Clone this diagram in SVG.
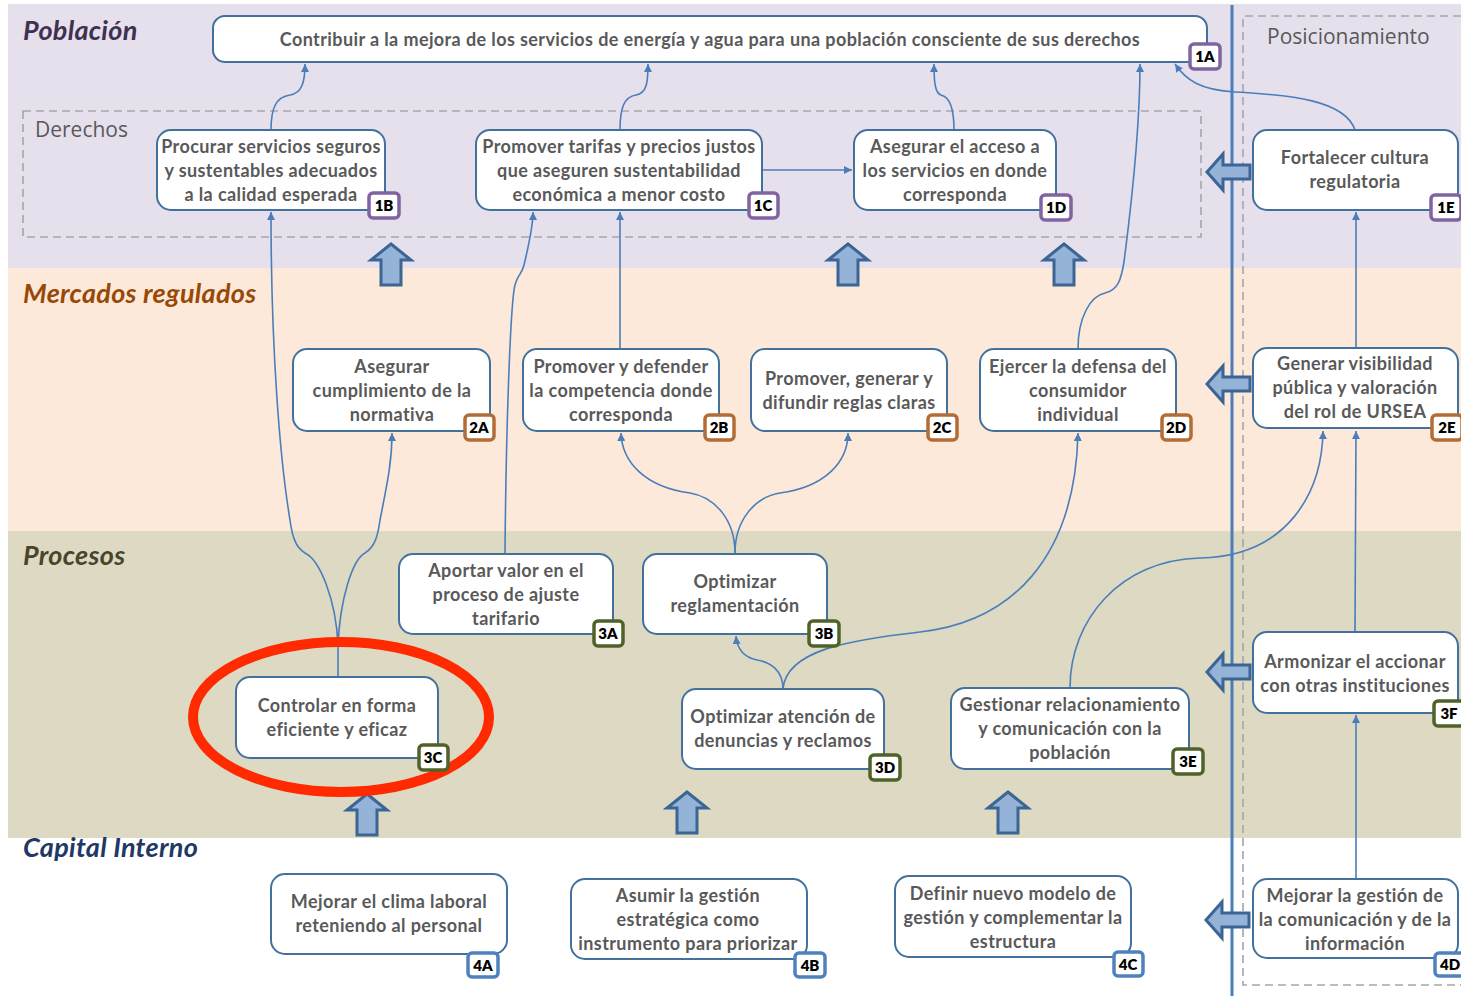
<svg xmlns="http://www.w3.org/2000/svg" width="1461" height="996" viewBox="0 0 1461 996">
<defs>
<style>
.lbl{font-family:Lato,"Liberation Sans",sans-serif;font-weight:700;font-style:italic;font-size:27px;letter-spacing:0.3px}
.grp{font-family:"Open Sans","Liberation Sans",sans-serif;font-size:21px;fill:#595959}
.box{fill:#fff;stroke:#41719c;stroke-width:2}
.t{font-family:Lato,"Liberation Sans",sans-serif;font-weight:700;font-size:18px;letter-spacing:0.4px;fill:#595959;text-anchor:middle}
.bd{fill:#fff;stroke-width:3.5}
.bt{font-family:Lato,"Liberation Sans",sans-serif;font-weight:800;font-size:15px;fill:#000;text-anchor:middle}
.p1{stroke:#8064a2}.p2{stroke:#b46c36}.p3{stroke:#4f6228}.p4{stroke:#4f81bd}
.c{fill:none;stroke:#4a7ebb;stroke-width:1.6}
.big{fill:#95b3d7;stroke:#3a6595;stroke-width:3;stroke-linejoin:miter}
.dash{fill:none;stroke:#a6a6a6;stroke-width:1.6;stroke-dasharray:8 5}
</style>
<marker id="ah" markerUnits="userSpaceOnUse" markerWidth="10" markerHeight="10" refX="8" refY="4" orient="auto">
<path d="M0,0 L8,4 L0,8 z" fill="#4a7ebb"/>
</marker>
<path id="up" d="M0,0 L20,16 L10,16 L10,41 L-10,41 L-10,16 L-20,16 Z"/>
<path id="left" d="M0,0 L16,-18 L16,-7 L43,-7 L43,7 L16,7 L16,18 Z"/>
</defs>

<g id="lanes">
<rect x="8" y="4" width="1453" height="264" fill="#e5e0ec"/>
<rect x="8" y="268" width="1453" height="263" fill="#fde9d9"/>
<rect x="8" y="531" width="1453" height="307" fill="#ddd9c3"/>
<rect x="23" y="111" width="1178" height="126" class="dash"/>
<path d="M1461,16 L1243,16 L1243,985 L1461,985" class="dash"/>
<line x1="1232" y1="5" x2="1232" y2="996" stroke="#4a7ebb" stroke-width="3"/>
<text x="23" y="40" class="lbl" fill="#3f3151">Población</text>
<text x="23" y="303" class="lbl" fill="#984807">Mercados regulados</text>
<text x="23" y="565" class="lbl" fill="#4a452a">Procesos</text>
<text x="23" y="857" class="lbl" fill="#1f3864">Capital Interno</text>
<text x="35" y="137" class="grp">Derechos</text>
<text x="1267" y="44" class="grp">Posicionamiento</text>
</g>

<g id="connectors">
<path class="c" marker-end="url(#ah)" d="M271,130 C271,108 276,97 290,95 C302,93 305,82 305,64"/>
<path class="c" marker-end="url(#ah)" d="M620,130 C620,108 624,97 636,95 C647,93 648,82 648,64"/>
<path class="c" marker-end="url(#ah)" d="M954,130 C954,108 950,97 941,95 C935,93 934,82 934,64"/>
<path class="c" marker-end="url(#ah)" d="M1078,349 C1078,318 1090,296 1105,293 C1118,290 1121,280 1124,262 C1132,200 1140,120 1140,64"/>
<path class="c" marker-end="url(#ah)" d="M1355,130 C1345,100 1290,95 1235,92 C1200,90 1186,80 1175,64"/>
<path class="c" marker-end="url(#ah)" d="M762,170 L852,170"/>
<path class="c" marker-end="url(#ah)" d="M338,677 L338,645 C336,600 320,560 305,553 C295,547 292,535 290,520 C280,460 271,350 271,212"/>
<path class="c" marker-end="url(#ah)" d="M338,645 C340,600 352,560 365,553 C375,547 378,535 380,520 C388,480 392,460 392,433"/>
<path class="c" marker-end="url(#ah)" d="M505,554 C506,430 510,320 514,290 C516,275 522,275 524,265 C530,240 533,225 533,212"/>
<path class="c" marker-end="url(#ah)" d="M620,349 L620,212"/>
<path class="c" marker-end="url(#ah)" d="M735,553 C735,520 715,497 690,493 C645,487 622,462 621,433"/>
<path class="c" marker-end="url(#ah)" d="M735,553 C735,520 755,497 780,493 C825,487 848,462 848,433"/>
<path class="c" marker-end="url(#ah)" d="M783,689 C783,670 770,662 757,660 C742,657 737,648 736,636"/>
<path class="c" marker-end="url(#ah)" d="M783,689 C786,650 850,640 920,632 C1010,622 1075,560 1078,433"/>
<path class="c" marker-end="url(#ah)" d="M1070,688 C1070,620 1120,560 1200,558 C1290,556 1322,490 1323,431"/>
<path class="c" marker-end="url(#ah)" d="M1355,632 L1356,431"/>
<path class="c" marker-end="url(#ah)" d="M1356,348 L1356,212"/>
<path class="c" marker-end="url(#ah)" d="M1356,879 L1356,715"/>
</g>

<g id="block-arrows" class="big">
<use href="#up" x="391" y="244"/>
<use href="#up" x="848" y="244"/>
<use href="#up" x="1064" y="244"/>
<use href="#up" x="367" y="794"/>
<use href="#up" x="687" y="792"/>
<use href="#up" x="1008" y="792"/>
<use href="#left" x="1207" y="172"/>
<use href="#left" x="1207" y="384"/>
<use href="#left" x="1207" y="672"/>
<use href="#left" x="1206" y="920"/>
</g>

<ellipse id="highlight" cx="341" cy="717" rx="148" ry="75" fill="none" stroke="#ff2a00" stroke-width="10"/>

<g id="n1A"><rect class="box" x="213" y="16" width="994" height="46" rx="12"/>
<text class="t" x="710" y="46">Contribuir  a la mejora de los servicios de energía y agua para una población consciente de sus derechos</text>
<rect class="bd p1" x="1190" y="44" width="30" height="25" rx="4"/><text class="bt" x="1205" y="62">1A</text></g>

<g id="n1B"><rect class="box" x="157" y="130" width="228" height="80" rx="14"/>
<text class="t" x="271" y="153">Procurar servicios seguros</text><text class="t" x="271" y="177">y sustentables adecuados</text><text class="t" x="271" y="201">a la calidad esperada</text>
<rect class="bd p1" x="369" y="193" width="30" height="25" rx="4"/><text class="bt" x="384" y="211">1B</text></g>

<g id="n1C"><rect class="box" x="476" y="130" width="286" height="80" rx="14"/>
<text class="t" x="619" y="153">Promover tarifas y precios justos</text><text class="t" x="619" y="177">que aseguren sustentabilidad</text><text class="t" x="619" y="201">económica a menor costo</text>
<rect class="bd p1" x="749" y="193" width="29" height="25" rx="4"/><text class="bt" x="763" y="211">1C</text></g>

<g id="n1D"><rect class="box" x="854" y="130" width="202" height="80" rx="14"/>
<text class="t" x="955" y="153">Asegurar el acceso a</text><text class="t" x="955" y="177">los servicios en donde</text><text class="t" x="955" y="201">corresponda</text>
<rect class="bd p1" x="1041" y="195" width="30" height="25" rx="4"/><text class="bt" x="1056" y="213">1D</text></g>

<g id="n1E"><rect class="box" x="1253" y="130" width="205" height="80" rx="14"/>
<text class="t" x="1355" y="164">Fortalecer cultura</text><text class="t" x="1355" y="188">regulatoria</text>
<rect class="bd p1" x="1431" y="195" width="30" height="25" rx="4"/><text class="bt" x="1446" y="213">1E</text></g>

<g id="n2A"><rect class="box" x="293" y="349" width="197" height="82" rx="14"/>
<text class="t" x="392" y="373">Asegurar</text><text class="t" x="392" y="397">cumplimiento de la</text><text class="t" x="392" y="421">normativa</text>
<rect class="bd p2" x="465" y="415" width="29" height="25" rx="4"/><text class="bt" x="479" y="433">2A</text></g>

<g id="n2B"><rect class="box" x="523" y="349" width="196" height="82" rx="14"/>
<text class="t" x="621" y="373">Promover  y defender</text><text class="t" x="621" y="397">la competencia donde</text><text class="t" x="621" y="421">corresponda</text>
<rect class="bd p2" x="705" y="415" width="29" height="25" rx="4"/><text class="bt" x="719" y="433">2B</text></g>

<g id="n2C"><rect class="box" x="751" y="349" width="196" height="82" rx="14"/>
<text class="t" x="849" y="385">Promover, generar y</text><text class="t" x="849" y="409">difundir reglas claras</text>
<rect class="bd p2" x="928" y="415" width="29" height="25" rx="4"/><text class="bt" x="942" y="433">2C</text></g>

<g id="n2D"><rect class="box" x="980" y="349" width="196" height="82" rx="14"/>
<text class="t" x="1078" y="373">Ejercer la defensa del</text><text class="t" x="1078" y="397">consumidor</text><text class="t" x="1078" y="421">individual</text>
<rect class="bd p2" x="1162" y="415" width="29" height="25" rx="4"/><text class="bt" x="1176" y="433">2D</text></g>

<g id="n2E"><rect class="box" x="1253" y="348" width="205" height="80" rx="14"/>
<text class="t" x="1355" y="370">Generar visibilidad</text><text class="t" x="1355" y="394">pública y valoración</text><text class="t" x="1355" y="418">del rol de URSEA</text>
<rect class="bd p2" x="1432" y="415" width="30" height="25" rx="4"/><text class="bt" x="1447" y="433">2E</text></g>

<g id="n3A"><rect class="box" x="399" y="554" width="214" height="80" rx="14"/>
<text class="t" x="506" y="577">Aportar valor en el</text><text class="t" x="506" y="601">proceso de ajuste</text><text class="t" x="506" y="625">tarifario</text>
<rect class="bd p3" x="594" y="621" width="29" height="25" rx="4"/><text class="bt" x="608" y="639">3A</text></g>

<g id="n3B"><rect class="box" x="643" y="554" width="184" height="80" rx="14"/>
<text class="t" x="735" y="588">Optimizar</text><text class="t" x="735" y="612">reglamentación</text>
<rect class="bd p3" x="809" y="621" width="30" height="25" rx="4"/><text class="bt" x="824" y="639">3B</text></g>

<g id="n3C"><rect class="box" x="236" y="677" width="202" height="81" rx="14"/>
<text class="t" x="337" y="712">Controlar en forma</text><text class="t" x="337" y="736">eficiente y eficaz</text>
<rect class="bd p3" x="419" y="745" width="29" height="25" rx="4"/><text class="bt" x="433" y="763">3C</text></g>

<g id="n3D"><rect class="box" x="682" y="689" width="202" height="80" rx="14"/>
<text class="t" x="783" y="723">Optimizar atención de</text><text class="t" x="783" y="747">denuncias y reclamos</text>
<rect class="bd p3" x="870" y="755" width="30" height="25" rx="4"/><text class="bt" x="885" y="773">3D</text></g>

<g id="n3E"><rect class="box" x="951" y="688" width="238" height="81" rx="14"/>
<text class="t" x="1070" y="711">Gestionar relacionamiento</text><text class="t" x="1070" y="735">y comunicación con la</text><text class="t" x="1070" y="759">población</text>
<rect class="bd p3" x="1173" y="749" width="30" height="25" rx="4"/><text class="bt" x="1188" y="767">3E</text></g>

<g id="n3F"><rect class="box" x="1253" y="632" width="205" height="81" rx="14"/>
<text class="t" x="1355" y="668">Armonizar el accionar</text><text class="t" x="1355" y="692">con otras instituciones</text>
<rect class="bd p3" x="1434" y="701" width="30" height="25" rx="4"/><text class="bt" x="1449" y="719">3F</text></g>

<g id="n4A"><rect class="box" x="271" y="874" width="236" height="80" rx="14"/>
<text class="t" x="389" y="908">Mejorar el clima laboral</text><text class="t" x="389" y="932">reteniendo  al personal</text>
<rect class="bd p4" x="468" y="953" width="30" height="24" rx="4"/><text class="bt" x="483" y="971">4A</text></g>

<g id="n4B"><rect class="box" x="571" y="879" width="236" height="80" rx="14"/>
<text class="t" x="688" y="902">Asumir la gestión</text><text class="t" x="688" y="926">estratégica como</text><text class="t" x="688" y="950">instrumento para priorizar</text>
<rect class="bd p4" x="795" y="953" width="30" height="24" rx="4"/><text class="bt" x="810" y="971">4B</text></g>

<g id="n4C"><rect class="box" x="895" y="876" width="236" height="81" rx="14"/>
<text class="t" x="1013" y="900">Definir nuevo modelo de</text><text class="t" x="1013" y="924">gestión y complementar la</text><text class="t" x="1013" y="948">estructura</text>
<rect class="bd p4" x="1114" y="952" width="29" height="24" rx="4"/><text class="bt" x="1128" y="970">4C</text></g>

<g id="n4D"><rect class="box" x="1253" y="879" width="205" height="79" rx="14"/>
<text class="t" x="1355" y="902">Mejorar la gestión de</text><text class="t" x="1355" y="926">la comunicación y de la</text><text class="t" x="1355" y="950">información</text>
<rect class="bd p4" x="1435" y="953" width="30" height="23" rx="4"/><text class="bt" x="1450" y="970">4D</text></g>
</svg>
